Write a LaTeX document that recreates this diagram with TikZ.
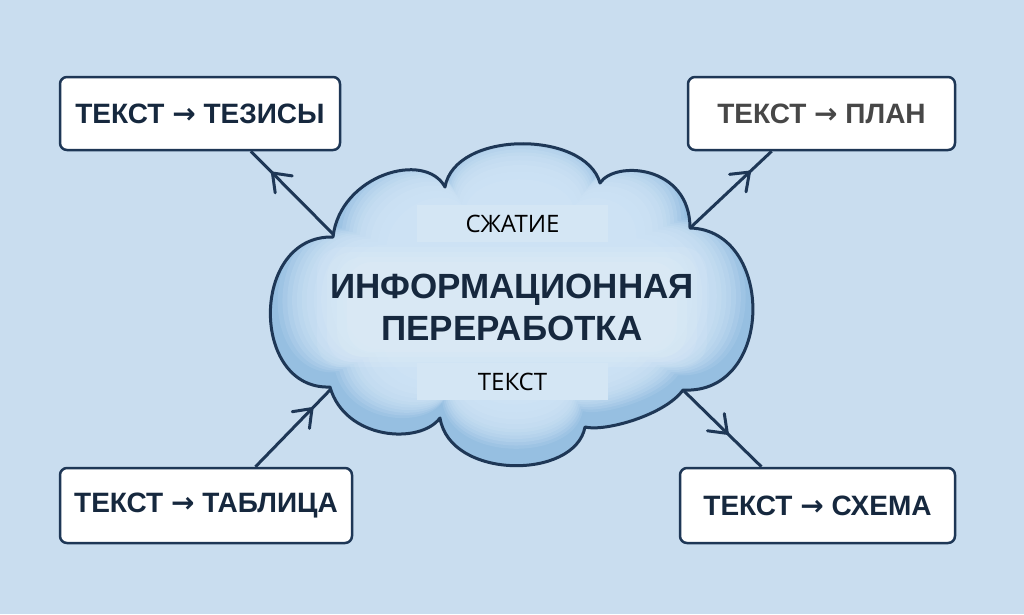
\documentclass[tikz,border=0pt]{standalone}
\usepackage{fontspec}
\setmainfont{Liberation Sans}
\newfontfamily\labfont{Open Sans}
\newfontfamily\arrfont{DejaVu Sans}
\usetikzlibrary{decorations.markings,calc}
\definecolor{bg}{HTML}{C9DDEF}
\definecolor{navy}{HTML}{1E3756}
\definecolor{ink}{HTML}{16283E}
\definecolor{greyink}{HTML}{474747}
\definecolor{cloudedge}{HTML}{96BFE1}
\definecolor{cloudin}{HTML}{CDE2F4}
\definecolor{band}{HTML}{D4E6F4}
\newcommand{\ra}{{\arrfont\bfseries →}}
\def\cloudpath{(333,237) .. controls (340,175) and (425,150) .. (445,187)
  .. controls (455,130) and (585,130) .. (600,183)
  .. controls (615,160) and (690,165) .. (690,228)
  .. controls (775,230) and (775,395) .. (683,390)
  .. controls (665,415) and (605,432) .. (585,427)
  .. controls (575,480) and (450,480) .. (440,418)
  .. controls (420,445) and (345,440) .. (330,387)
  .. controls (250,390) and (250,235) .. (333,237) -- cycle}
\tikzset{
  box/.style={draw=navy, line width=2.5pt, fill=white, rounded corners=7pt, inner sep=0pt,
    font=\fontsize{28}{32}\selectfont\bfseries, text=ink},
  conn/.style={draw=navy, line width=3pt},
  midarrow/.style={postaction={decorate, decoration={markings,
    mark=at position #1 with {\draw[navy, line width=3pt, line cap=round, line join=round]
      (-16pt,12pt) -- (0pt,0pt) -- (-16pt,-12pt);}}}},
  bandbox/.style={fill=band, inner sep=0pt, minimum width=191pt, minimum height=37pt,
    font=\labfont\fontsize{24}{28}\selectfont, text=black}
}
\begin{document}
\begin{tikzpicture}[x=1pt,y=-1pt]
\useasboundingbox (0,0) rectangle (1024,614);
\fill[bg] (0,0) rectangle (1024,614);
% connection points on the cloud
\coordinate (c1) at (333,234);
\coordinate (c4) at (690,228);
\coordinate (c5) at (684,391);
\coordinate (c8) at (331,389);
% boxes
\node[box, minimum width=280pt, minimum height=73pt] (tl) at (200,113.5) {ТЕКСТ \ra{} ТЕЗИСЫ};
\node[box, minimum width=267pt, minimum height=73pt, text=greyink] (tr) at (821.5,113.5) {ТЕКСТ \ra{} ПЛАН};
\node[box, minimum width=292pt, minimum height=75pt] (bl) at (206,505.5) {ТЕКСТ \ra{} ТАБЛИЦА};
\node[box, minimum width=275pt, minimum height=75pt] (br) at (817.5,505.5) {ТЕКСТ \ra{} СХЕМА};
% connectors
\draw[conn, midarrow=0.74] (c1) -- ($(tl.south west)!0.68!(tl.south east)$);
\draw[conn, midarrow=0.73] (c4) -- ($(tr.south west)!0.315!(tr.south east)$);
\draw[conn, midarrow=0.75] ($(bl.north west)!0.668!(bl.north east)$) -- (c8);
\draw[conn, midarrow=0.56] (c5) -- ($(br.north west)!0.298!(br.north east)$);
% cloud
\begin{scope}
  \clip \cloudpath;
  \fill[cloudedge] \cloudpath;
  \foreach \s/\c in {0.97/15, 0.95/30, 0.93/45, 0.91/58, 0.89/68, 0.87/76, 0.85/83, 0.82/89, 0.79/94, 0.75/97, 0.70/100}{
    \begin{scope}[shift={(512,290)}, scale=\s, shift={(-512,-302)}]
      \fill[cloudin!\c!cloudedge] \cloudpath;
    \end{scope}
  }
  \foreach \w/\h in {195/60, 185/55, 175/50, 165/45}{
    \fill[white, opacity=0.08, rounded corners=25pt] (512-\w,307-\h) rectangle (512+\w,307+\h);
  }
\end{scope}
\draw[navy, line width=3pt, line join=round] \cloudpath;
% labels
\node[bandbox] (top) at (512.5,223.5) {СЖАТИЕ};
\node[bandbox] (bot) at (512.5,381.5) {ТЕКСТ};
\node[align=center, font=\fontsize{35}{42}\selectfont\bfseries, text=ink] (title) at (512,307)
  {ИНФОРМАЦИОННАЯ\\ПЕРЕРАБОТКА};
\end{tikzpicture}
\end{document}
